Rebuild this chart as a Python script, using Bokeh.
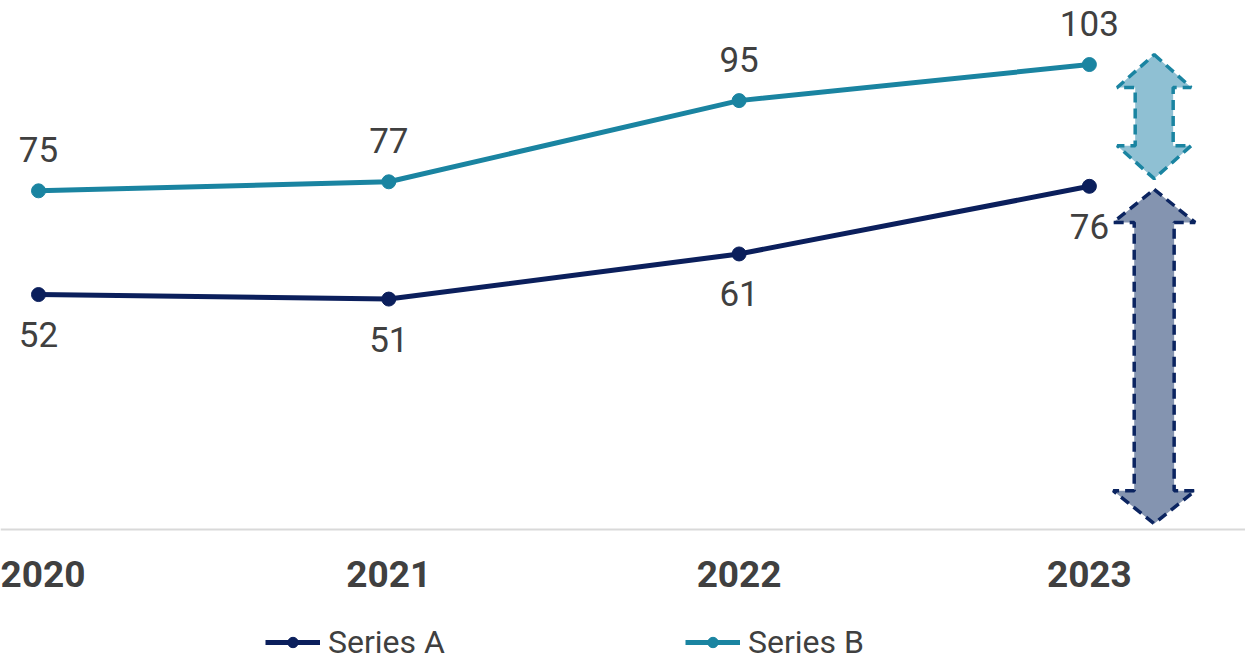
from bokeh.plotting import figure
from bokeh.models import ColumnDataSource, Legend, LegendItem, FixedTicker, Range1d
from bokeh.core.properties import value
from bokeh.embed import file_html
from bokeh.resources import INLINE

# ---- data ----
years = [2020, 2021, 2022, 2023]
tick_labels = ["2020", "2021", "2022", "2023"]
series_a = [52, 51, 61, 76]
series_b = [75, 77, 95, 103]
series_a_labels = ["52", "51", "61", "76"]
series_b_labels = ["75", "77", "95", "103"]
# gap arrows (light: between series, dark: series A to zero)
arrow_x = [2023.185, 2023.185]
arrow_top = [105.2, 75.3]
arrow_bottom = [77.7, 1.2]

COL_A = "#0b1f5c"
COL_B = "#1a84a1"
TXT = "#404040"

p = figure(width=1245, height=661, output_backend="svg", toolbar_location=None,
           x_range=Range1d(2019.8915, 2023.4457), y_range=Range1d(-29.36, 117.2),
           min_border=0)
p.outline_line_color = None
p.xgrid.visible = False
p.ygrid.visible = False
p.yaxis.visible = False
p.background_fill_color = "white"
p.border_fill_color = "white"

ax = p.xaxis[0]
ax.fixed_location = 0
ax.ticker = FixedTicker(ticks=years)
ax.major_label_overrides = {y: t for y, t in zip(years, tick_labels)}
ax.axis_line_color = "#d9d9d9"
ax.axis_line_width = 2
ax.major_tick_line_color = None
ax.minor_tick_line_color = None
ax.major_tick_out = 0
ax.major_tick_in = 0
ax.major_label_standoff = 32
ax.major_label_text_font = "Roboto"
ax.major_label_text_font_style = "bold"
ax.major_label_text_font_size = "37px"
ax.major_label_text_color = TXT

# arrows
hl = 7.3
specs = [(0.1056, 0.0542, "#8fc0d3", COL_B), (0.117, 0.057, "#8494b0", "#0b2460")]
for i, (hw, sw, fc, lc) in enumerate(specs):
    xc, top, bot = arrow_x[i], arrow_top[i], arrow_bottom[i]
    xs = [xc, xc + hw, xc + sw, xc + sw, xc + hw, xc, xc - hw, xc - sw, xc - sw, xc - hw]
    ys = [top, top - hl, top - hl, bot + hl, bot + hl, bot, bot + hl, bot + hl, top - hl, top - hl]
    p.patch(xs, ys, fill_color=fc, line_color=lc, line_width=3.5, line_dash="10 6")

src_a = ColumnDataSource(dict(x=years, y=series_a, t=series_a_labels))
src_b = ColumnDataSource(dict(x=years, y=series_b, t=series_b_labels))

la = p.line("x", "y", source=src_a, line_color=COL_A, line_width=5)
sa = p.scatter("x", "y", source=src_a, size=14, fill_color=COL_A, line_color=COL_A)
lb = p.line("x", "y", source=src_b, line_color=COL_B, line_width=5)
sb = p.scatter("x", "y", source=src_b, size=14, fill_color=COL_B, line_color=COL_B)

p.text("x", "y", text="t", source=src_a, text_font=value("Roboto"), text_font_size="35px",
       text_color=TXT, text_align="center", text_baseline="alphabetic", y_offset=40)
p.text("x", "y", text="t", source=src_b, text_font=value("Roboto"), text_font_size="35px",
       text_color=TXT, text_align="center", text_baseline="alphabetic", y_offset=-41)

legend = Legend(items=[LegendItem(label="Series A", renderers=[la, sa]),
                       LegendItem(label="Series B", renderers=[lb, sb])],
                orientation="horizontal", location=(265, 0),
                glyph_width=55, glyph_height=26, label_standoff=8, spacing=0,
                label_width=357, padding=0, margin=0,
                label_text_font="Roboto", label_text_font_size="32px", label_text_color=TXT,
                border_line_color=None, background_fill_alpha=0)
p.add_layout(legend, "center")

open("out.html", "w").write(file_html(p, INLINE))
